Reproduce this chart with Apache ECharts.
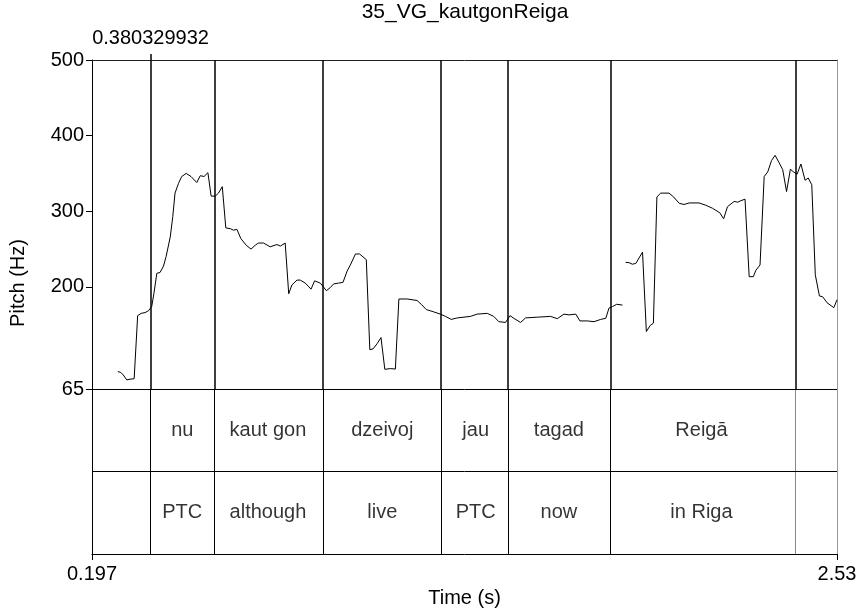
<!DOCTYPE html>
<html>
<head>
<meta charset="utf-8">
<script src="https://cdn.jsdelivr.net/npm/echarts@6/dist/echarts.min.js"></script>
<style>
html,body{margin:0;padding:0;background:#fff;}
#chart{width:860px;height:614px;}
</style>
</head>
<body>
<div id="chart"></div>
<script>
// ---- data ----
const chartTitle = '35_VG_kautgonReiga';
const timeRange = [0.197, 2.53];
const pitchRange = [65, 500];
const pitchTicks = [65, 200, 300, 400, 500];
const timeTicks = [0.197, 2.53];

const pitchTimes = [
  0.278,0.287,0.295,0.306,0.316,0.329,0.340,0.351,0.363,0.374,
  0.384,0.391,0.400,0.410,0.421,0.429,0.442,0.450,0.457,0.468,
  0.478,0.492,0.507,0.525,0.536,0.548,0.560,0.570,0.583,0.593,
  0.605,0.616,0.630,0.640,0.651,0.663,0.680,0.695,0.708,0.718,
  0.734,0.755,0.776,0.787,0.802,0.813,0.823,0.839,0.849,0.865,
  0.883,0.894,0.912,0.931,0.943,0.954,0.969,0.983,0.996,1.006,
  1.022,1.035,1.056,1.067,1.077,1.090,1.102,1.114,1.131,1.147,
  1.158,1.184,1.215,1.228,1.244,1.267,1.288,1.304,1.322,1.341,
  1.382,1.403,1.435,1.455,1.471,1.492,1.506,1.518,1.539,1.555,
  1.592,1.633,1.654,1.675,1.691,1.712,1.725,1.748,1.769,1.790,
  1.806,1.816,1.827,1.840,1.858,
  1.863,
  1.868,1.879,1.889,1.900,1.921,
  1.933,1.945,1.955,1.966,1.978,2.004,2.018,2.036,2.051,2.067,
  2.098,2.119,2.140,2.163,2.175,2.187,2.208,2.219,2.229,2.242,
  2.255,2.268,2.276,2.289,2.302,2.313,2.325,2.336,2.349,2.360,
  2.372,2.384,2.394,2.405,2.417,2.430,2.440,2.451,2.462,2.475,
  2.485,2.499,2.520,2.530
];
const pitchHz = [
  88,87,83.5,77,78,78.6,162,165,166,168.5,
  174,191.5,218,219,227.6,240,266,293,324,337,
  346,350,346,338,347,346,351,320,320,324,
  332.5,278,277,275,276,264,255,250,255,258,
  258,253,256,254,258,191,202.5,209,209,205,
  197,208,205,195,199,204,205,206,221,229,
  243.5,243.5,236,117,118,125,133,91,92,91.4,
  184,184,182,177,170,167,164,161,157,159,
  161,164,165,161,154,153,162,158.5,153,159,
  160,161,158,164,163,164,155,155,154,157,
  158.5,172,174,177,176,
  null,
  232.5,232,230,231,246,
  141,149,152,319,324,324,319,310.5,309,311,
  311,308,304,298,290,306,313,312,314,316,
  213.5,213.5,222,229,346,352,367,374,364,355,
  326,355.5,352,349,362.5,341,344,335,216,188,
  187,179,172.5,183
];

const boundaries = [0.380329932, 0.579, 0.917, 1.295, 1.502, 1.816, 2.395];
const wordTier = ['', 'nu', 'kaut gon', 'dzeivoj', 'jau', 'tagad', 'Reigā', ''];
const glossTier = ['', 'PTC', 'although', 'live', 'PTC', 'now', 'in Riga', ''];

// ---- build ----
const FONT = '"Liberation Sans", Arial, Helvetica, sans-serif';
const FS = 20;
const pitchData = pitchTimes.map((t, i) => [t, pitchHz[i] === null ? '-' : pitchHz[i]]);
const edges = [timeRange[0]].concat(boundaries, [timeRange[1]]);
const tierData = [];
for (let i = 0; i < edges.length - 1; i++) {
  const mid = (edges[i] + edges[i + 1]) / 2;
  if (wordTier[i]) tierData.push([mid, 1.5, wordTier[i]]);
  if (glossTier[i]) tierData.push([mid, 0.5, glossTier[i]]);
}
const lastIdx = boundaries.length - 1;

const chart = echarts.init(document.getElementById('chart'), null, {renderer: 'canvas'});
const blackLine = {type: 'solid', color: '#000', width: 1};

chart.setOption({
  animation: false,
  backgroundColor: '#fff',
  textStyle: {fontFamily: FONT, color: '#000'},
  graphic: [
    {type: 'text', x: 465, y: 12, style: {text: chartTitle, font: '21px ' + FONT, fill: '#000', textAlign: 'center', textVerticalAlign: 'middle'}},
    {type: 'text', x: 18, y: 283, rotation: Math.PI / 2, style: {text: 'Pitch (Hz)', font: FS + 'px ' + FONT, fill: '#000', textAlign: 'center', textVerticalAlign: 'middle'}}
  ],
  grid: [
    {left: 92, right: 23, top: 60, height: 329},
    {left: 92, right: 23, top: 389, height: 165}
  ],
  xAxis: [
    {gridIndex: 0, type: 'value', min: timeRange[0], max: timeRange[1], show: false},
    {gridIndex: 0, type: 'value', position: 'top', min: timeRange[0], max: timeRange[1],
      axisLine: {show: true, onZero: false, lineStyle: {color: '#222', width: 1}},
      axisTick: {show: true, length: 6, customValues: [boundaries[0]], lineStyle: {color: '#000', width: 1.5}},
      axisLabel: {show: true, customValues: [boundaries[0]], formatter: v => String(v), fontSize: FS, color: '#000', margin: 12, fontFamily: FONT},
      splitLine: {show: false}},
    {gridIndex: 1, type: 'value', position: 'bottom', min: timeRange[0], max: timeRange[1],
      axisLine: {show: true, onZero: false, lineStyle: {color: '#000', width: 1}},
      axisTick: {show: true, length: 6, customValues: timeTicks, lineStyle: {color: '#000'}},
      axisLabel: {show: true, customValues: timeTicks, formatter: v => String(v), fontSize: FS, color: '#000', margin: 10, fontFamily: FONT},
      splitLine: {show: false},
      name: 'Time (s)', nameLocation: 'middle', nameGap: 34,
      nameTextStyle: {fontSize: FS, color: '#000', fontFamily: FONT}}
  ],
  yAxis: [
    {gridIndex: 0, type: 'value', min: pitchRange[0], max: pitchRange[1], position: 'left',
      axisLine: {show: true, onZero: false, lineStyle: {color: '#000', width: 1}},
      axisTick: {show: true, length: 6, customValues: pitchTicks, lineStyle: {color: '#000'}},
      axisLabel: {show: true, customValues: pitchTicks, fontSize: FS, color: '#000', margin: 8, fontFamily: FONT},
      splitLine: {show: false}},
    {gridIndex: 0, type: 'value', min: 0, max: 1, position: 'right',
      axisLine: {show: true, onZero: false, lineStyle: {color: '#999', width: 1}},
      axisTick: {show: false}, axisLabel: {show: false}, splitLine: {show: false}},
    {gridIndex: 1, type: 'value', min: 0, max: 2, position: 'left',
      axisLine: {show: true, onZero: false, lineStyle: {color: '#000', width: 1}},
      axisTick: {show: false}, axisLabel: {show: false}, splitLine: {show: false}},
    {gridIndex: 1, type: 'value', min: 0, max: 2, position: 'right',
      axisLine: {show: true, onZero: false, lineStyle: {color: '#999', width: 1}},
      axisTick: {show: false}, axisLabel: {show: false}, splitLine: {show: false}}
  ],
  series: [
    {
      type: 'line', xAxisIndex: 0, yAxisIndex: 0,
      data: pitchData, showSymbol: false, symbol: 'none', connectNulls: false,
      lineStyle: {color: '#000', width: 1}, clip: true, z: 3,
      markLine: {
        silent: true, symbol: ['none', 'none'], label: {show: false},
        lineStyle: {type: 'solid', color: '#000', width: 1.5},
        data: boundaries.map(b => ({xAxis: b}))
      }
    },
    {
      type: 'scatter', xAxisIndex: 2, yAxisIndex: 2,
      data: tierData, symbolSize: 0, silent: true,
      label: {show: true, position: 'inside', formatter: p => p.value[2], fontSize: FS, color: '#000', fontFamily: FONT},
      markLine: {
        silent: true, symbol: ['none', 'none'], label: {show: false},
        lineStyle: blackLine,
        data: boundaries.map((b, i) => i === lastIdx
          ? {xAxis: b, lineStyle: {type: 'solid', color: '#888', width: 1}}
          : {xAxis: b}).concat([{yAxis: 1}, {yAxis: 2}])
      }
    }
  ]
});
</script>
</body>
</html>
